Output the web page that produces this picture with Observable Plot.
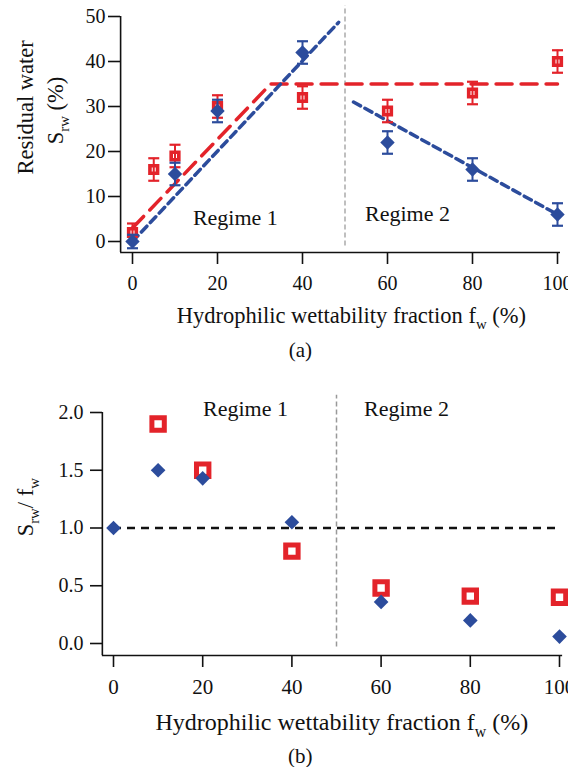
<!DOCTYPE html>
<html>
<head>
<meta charset="utf-8">
<script src="https://cdn.jsdelivr.net/npm/d3@7"></script>
<script src="https://cdn.jsdelivr.net/npm/@observablehq/plot@0.6"></script>
<style>
  html, body { margin: 0; padding: 0; background: white; }
  #wrap { position: relative; width: 568px; height: 767px; overflow: hidden; }
  #wrap svg { position: absolute; left: 0; }
  #wrap svg text { font-family: 'Liberation Serif', 'Times New Roman', serif; }
</style>
</head>
<body>
<div id="wrap"></div>
<script>
// ---------- Data: panel (a) ----------
const fwBlueA = [0, 10, 20, 40, 60, 80, 100];
const srwBlueA = [0, 15, 29, 42, 22, 16, 6];
const errBlueA = [1.5, 2.5, 2.5, 2.5, 2.5, 2.5, 2.5];
const fwRedA = [0, 5, 10, 20, 40, 60, 80, 100];
const srwRedA = [2, 16, 19, 30, 32, 29, 33, 40];
const errRedA = [2, 2.5, 2.5, 2.5, 2.5, 2.5, 2.5, 2.5];
const blueFit1X = [0, 48.5], blueFit1Y = [0, 48.7];
const blueFit2X = [52, 100], blueFit2Y = [31, 6];
const redFitX = [0, 32.5, 100], redFitY = [3, 35, 35];
const yTicksA = [0, 10, 20, 30, 40, 50];
const xTicks = [0, 20, 40, 60, 80, 100];
const regimeBoundary = 50;

// ---------- Data: panel (b) ----------
const fwBlueB = [0, 10, 20, 40, 60, 80, 100];
const ratioBlueB = [1.0, 1.5, 1.43, 1.05, 0.36, 0.2, 0.06];
const fwRedB = [10, 20, 40, 60, 80, 100];
const ratioRedB = [1.9, 1.5, 0.8, 0.48, 0.41, 0.40];
const yTicksB = [0.0, 0.5, 1.0, 1.5, 2.0];
const refRatio = 1.0;

const RED = "#e3232a";
const BLUE = "#2c4c9c";
const FONT = "'Liberation Serif', 'Times New Roman', serif";

const blueA = fwBlueA.map((x, i) => ({x, y: srwBlueA[i], e: errBlueA[i]}));
const redA = fwRedA.map((x, i) => ({x, y: srwRedA[i], e: errRedA[i]}));
const blueB = fwBlueB.map((x, i) => ({x, y: ratioBlueB[i]}));
const redB = fwRedB.map((x, i) => ({x, y: ratioRedB[i]}));

// horizontal cap symbol
const capSymbol = {
  draw(ctx, size) {
    const w = Math.sqrt(size) / 2;
    ctx.moveTo(-w, 0); ctx.lineTo(w, 0);
  }
};

function subscriptify(svg) {
  svg.querySelectorAll("text").forEach(t => {
    const s = t.textContent;
    if (!s.includes("_{")) return;
    const fs = parseFloat(t.getAttribute("font-size")) || parseFloat(getComputedStyle(t).fontSize) || 18;
    const parts = s.split(/(_\{[^}]*\})/).filter(p => p.length);
    while (t.firstChild) t.removeChild(t.firstChild);
    let shifted = false;
    parts.forEach(p => {
      const ts = document.createElementNS("http://www.w3.org/2000/svg", "tspan");
      if (p.startsWith("_{")) {
        ts.textContent = p.slice(2, -1);
        ts.setAttribute("font-size", (fs * 0.66) + "px");
        ts.setAttribute("dy", (fs * 0.28) + "px");
        shifted = true;
      } else {
        ts.textContent = p;
        if (shifted) { ts.setAttribute("dy", (-fs * 0.28) + "px"); shifted = false; }
      }
      t.appendChild(ts);
    });
  });
}

// ---------- Panel (a) ----------
const plotA = Plot.plot({
  width: 568,
  height: 370,
  marginLeft: 120,
  marginRight: 8,
  marginTop: 5,
  marginBottom: 118,
  style: {fontFamily: FONT, background: "white", color: "#111"},
  x: {domain: [0, 100], range: [132, 557]},
  y: {domain: [0, 50], range: [241, 16]},
  marks: [
    Plot.axisY({ticks: yTicksA, tickSize: 12, tickPadding: 3, fontSize: 20, label: null, stroke: "#111", strokeWidth: 1.6}),
    Plot.axisX({ticks: xTicks, tickSize: 12, tickPadding: 11, fontSize: 20, label: null, stroke: "#111", strokeWidth: 1.6}),
    Plot.ruleX([-2.8], {y1: -2.45, y2: 50, stroke: "#111", strokeWidth: 1.6}),
    Plot.ruleY([-2.45], {x1: -2.8, x2: 100.7, stroke: "#111", strokeWidth: 1.6}),
    Plot.ruleX([regimeBoundary], {y1: -1, y2: 52.4, stroke: "#aaa", strokeWidth: 1.5, strokeDasharray: "5,3"}),
    Plot.line(redFitX.map((x, i) => ({x, y: redFitY[i]})), {x: "x", y: "y", stroke: RED, strokeWidth: 3.5, strokeDasharray: "16,9"}),
    Plot.line(blueFit1X.map((x, i) => ({x, y: blueFit1Y[i]})), {x: "x", y: "y", stroke: BLUE, strokeWidth: 3.5, strokeDasharray: "8,5"}),
    Plot.line(blueFit2X.map((x, i) => ({x, y: blueFit2Y[i]})), {x: "x", y: "y", stroke: BLUE, strokeWidth: 3.5, strokeDasharray: "8,5"}),
    // red squares with error bars
    Plot.dot(redA, {x: "x", y: "y", symbol: "square", r: 4.3, fill: "white", stroke: RED, strokeWidth: 3.6}),
    Plot.ruleX(redA, {x: "x", y1: d => d.y - d.e, y2: d => d.y + d.e, stroke: RED, strokeWidth: 2}),
    Plot.dot(redA, {x: "x", y: d => d.y - d.e, symbol: capSymbol, r: 6.2, stroke: RED, strokeWidth: 2.2, fill: "none"}),
    Plot.dot(redA, {x: "x", y: d => d.y + d.e, symbol: capSymbol, r: 6.2, stroke: RED, strokeWidth: 2.2, fill: "none"}),
    // blue diamonds with error bars
    Plot.ruleX(blueA, {x: "x", y1: d => d.y - d.e, y2: d => d.y + d.e, stroke: BLUE, strokeWidth: 2}),
    Plot.dot(blueA, {x: "x", y: d => d.y - d.e, symbol: capSymbol, r: 6.2, stroke: BLUE, strokeWidth: 2.2, fill: "none"}),
    Plot.dot(blueA, {x: "x", y: d => d.y + d.e, symbol: capSymbol, r: 6.2, stroke: BLUE, strokeWidth: 2.2, fill: "none"}),
    Plot.dot(blueA, {x: "x", y: "y", symbol: "diamond2", r: 6.5, fill: BLUE, stroke: "none"}),
    // labels
    Plot.text(["Regime 1"], {x: 24.2, y: 5.3, text: d => d, fontSize: 22, fill: "#111"}),
    Plot.text(["Regime 2"], {x: 64.7, y: 6.2, text: d => d, fontSize: 22, fill: "#111"}),
    Plot.text(["Residual water"], {x: -25.2, y: 29.8, text: d => d, rotate: -90, fontSize: 22.5, fill: "#111"}),
    Plot.text(["S_{rw} (%)"], {x: -18.1, y: 29.1, text: d => d, rotate: -90, fontSize: 22.5, fill: "#111"}),
    Plot.text(["Hydrophilic wettability fraction f_{w} (%)"], {x: 51.5, y: -16.4, text: d => d, fontSize: 22.5, fill: "#111"}),
    Plot.text(["(a)"], {x: 39.5, y: -24.2, text: d => d, fontSize: 21, fill: "#111"})
  ]
});
plotA.style.top = "0px";
document.getElementById("wrap").appendChild(plotA);
subscriptify(plotA);

// ---------- Panel (b) ----------
const plotB = Plot.plot({
  width: 568,
  height: 397,
  marginLeft: 102,
  marginRight: 6,
  marginTop: 10,
  marginBottom: 112,
  style: {fontFamily: FONT, background: "white", color: "#111"},
  x: {domain: [0, 100], range: [113, 559]},
  y: {domain: [0, 2], range: [273, 42]},
  marks: [
    Plot.axisY({ticks: yTicksB, tickFormat: d3.format(".1f"), tickSize: 12, tickPadding: 7, fontSize: 20, label: null, stroke: "#111", strokeWidth: 1.6}),
    Plot.axisX({ticks: xTicks, tickSize: 12, tickPadding: 12, fontSize: 21, label: null, stroke: "#111", strokeWidth: 1.6}),
    Plot.ruleX([-2.5], {y1: -0.104, y2: 2.0, stroke: "#111", strokeWidth: 1.6}),
    Plot.ruleY([-0.104], {x1: -2.5, x2: 100.7, stroke: "#111", strokeWidth: 1.6}),
    Plot.ruleX([regimeBoundary], {y1: -0.03, y2: 2.15, stroke: "#999", strokeWidth: 1.5, strokeDasharray: "5,3"}),
    Plot.ruleY([refRatio], {x1: 0, x2: 100, stroke: "#111", strokeWidth: 2.4, strokeDasharray: "8,6"}),
    Plot.dot(redB, {x: "x", y: "y", symbol: "square", r: 7.0, fill: "white", stroke: RED, strokeWidth: 5}),
    Plot.dot(blueB, {x: "x", y: "y", symbol: "diamond2", r: 6.6, fill: BLUE, stroke: "none"}),
    Plot.text(["Regime 1"], {x: 29.6, y: 2.03, text: d => d, fontSize: 22, fill: "#111"}),
    Plot.text(["Regime 2"], {x: 65.7, y: 2.03, text: d => d, fontSize: 22, fill: "#111"}),
    Plot.text(["S_{rw}/ f_{w}"], {x: -19.7, y: 1.18, text: d => d, rotate: -90, fontSize: 22.5, fill: "#111"}),
    Plot.text(["Hydrophilic wettability fraction f_{w} (%)"], {x: 51.2, y: -0.684, text: d => d, fontSize: 24, fill: "#111"}),
    Plot.text(["(b)"], {x: 41.9, y: -0.975, text: d => d, fontSize: 21, fill: "#111"})
  ]
});
plotB.style.top = "370px";
document.getElementById("wrap").appendChild(plotB);
subscriptify(plotB);
</script>
</body>
</html>
